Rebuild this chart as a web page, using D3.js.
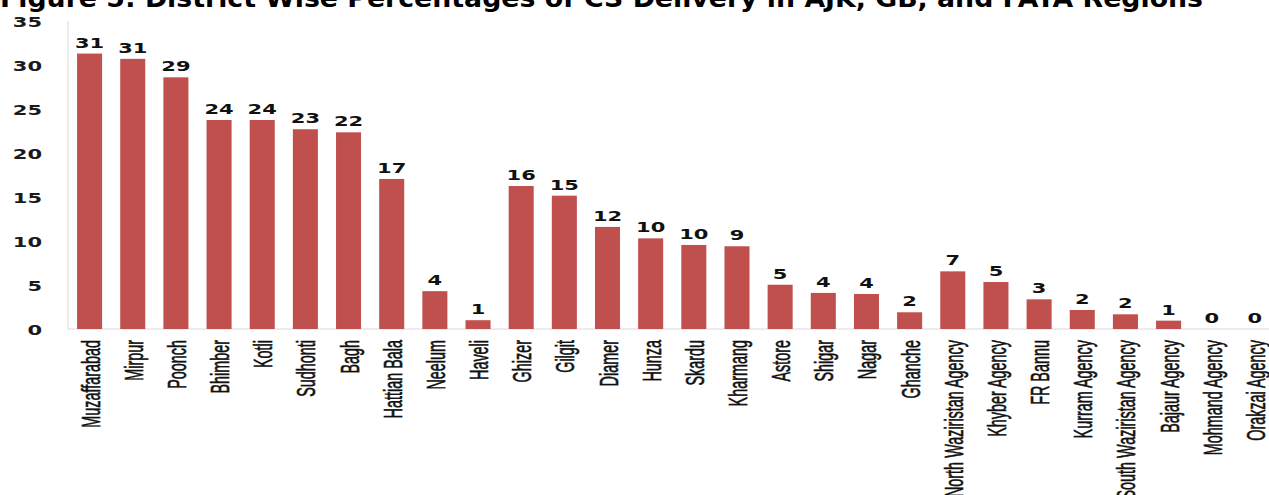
<!DOCTYPE html>
<html>
<head>
<meta charset="utf-8">
<script src="https://cdn.jsdelivr.net/npm/d3@7/dist/d3.min.js"></script>
<style>
  html, body { margin: 0; padding: 0; background: #fff; }
  svg { display: block; }
</style>
</head>
<body>
<svg id="chart" width="1269" height="495"></svg>
<script>
// District-wise percentages of CS delivery (AJK, GB and FATA)
const districts = [
  "Muzaffarabad", "Mirpur", "Poonch", "Bhimber", "Kotli", "Sudhonti", "Bagh",
  "Hattian Bala", "Neelum", "Haveli", "Ghizer", "Gilgit", "Diamer", "Hunza",
  "Skardu", "Kharmang", "Astore", "Shigar", "Nagar", "Ghanche",
  "North Waziristan Agency", "Khyber Agency", "FR Bannu", "Kurram Agency",
  "South Waziristan Agency", "Bajaur Agency", "Mohmand Agency", "Orakzai Agency"
];
const percentages = [
  31.3, 30.7, 28.6, 23.75, 23.75, 22.7, 22.35,
  17.05, 4.3, 1.0, 16.25, 15.15, 11.6, 10.3,
  9.55, 9.4, 5.03, 4.1, 3.98, 1.9,
  6.55, 5.34, 3.37, 2.16,
  1.67, 0.95, 0, 0
];
const yTicks = [0, 5, 10, 15, 20, 25, 30, 35];
const titleText = "Figure 5: District Wise Percentages of CS Delivery in AJK, GB, and FATA Regions";

const data = districts.map((d, i) => ({ name: d, value: percentages[i] }));

const svg = d3.select("#chart");
const axisX = 68, baseY = 329, topY = 21;
const step = 43.16;
const stretch = 1.5;          // horizontal widening of the lettering
const barColor = "#c0504d";
const labelFont = "'DejaVu Sans', Verdana, sans-serif";

const x = d3.scaleBand()
  .domain(districts)
  .range([axisX, axisX + step * districts.length])
  .paddingInner(0.42)
  .paddingOuter(0.21);

const y = d3.scaleLinear().domain([0, 35]).range([baseY, topY]);

// title (clipped at the top edge)
svg.append("text")
  .attr("x", 0)
  .attr("y", 7)
  .attr("textLength", 1203)
  .attr("lengthAdjust", "spacingAndGlyphs")
  .style("font-family", labelFont)
  .style("font-weight", "bold")
  .style("font-size", "25px")
  .attr("fill", "#000")
  .text(titleText);

// value axis line and category baseline
svg.append("line")
  .attr("x1", axisX).attr("x2", axisX)
  .attr("y1", y(35)).attr("y2", baseY)
  .attr("stroke", "#d9d9d9").attr("stroke-width", 1);
svg.append("line")
  .attr("x1", axisX).attr("x2", 1269)
  .attr("y1", baseY).attr("y2", baseY)
  .attr("stroke", "#d9d9d9").attr("stroke-width", 1);

// y tick labels
const yAxis = d3.axisLeft(y).tickValues(yTicks).tickSize(0).tickPadding(0);
const yg = svg.append("g").attr("transform", "translate(42,0)").call(yAxis);
yg.select(".domain").remove();
yg.selectAll(".tick text")
  .attr("x", 0).attr("dy", null)
  .attr("y", 5)
  .attr("transform", `scale(${stretch},1)`)
  .attr("text-anchor", "end")
  .style("font-family", labelFont)
  .style("font-weight", "bold")
  .style("font-size", "14px")
  .attr("fill", "#1a1a1a");

// bars
svg.append("g").selectAll("rect")
  .data(data)
  .join("rect")
  .attr("x", d => x(d.name))
  .attr("width", x.bandwidth())
  .attr("y", d => y(d.value))
  .attr("height", d => baseY - y(d.value))
  .attr("fill", barColor);

// value labels above bars
svg.append("g").selectAll("text")
  .data(data)
  .join("text")
  .attr("transform", d =>
    `translate(${x(d.name) + x.bandwidth() / 2},${y(d.value) - 6}) scale(${stretch},1)`)
  .attr("text-anchor", "middle")
  .style("font-family", labelFont)
  .style("font-weight", "bold")
  .style("font-size", "14px")
  .attr("fill", "#111")
  .text(d => d3.format(".0f")(d.value));

// rotated category labels
svg.append("g").selectAll("text")
  .data(data)
  .join("text")
  .attr("transform", d =>
    `translate(${x(d.name) + x.bandwidth() / 2 + 10},340) rotate(-90) scale(1,1.75)`)
  .attr("text-anchor", "end")
  .style("font-family", "'Liberation Sans', Arial, sans-serif")
  .style("font-size", "14.4px")
  .attr("fill", "#111")
  .attr("stroke", "#111")
  .attr("stroke-width", 0.35)
  .text(d => d.name);
</script>
</body>
</html>
